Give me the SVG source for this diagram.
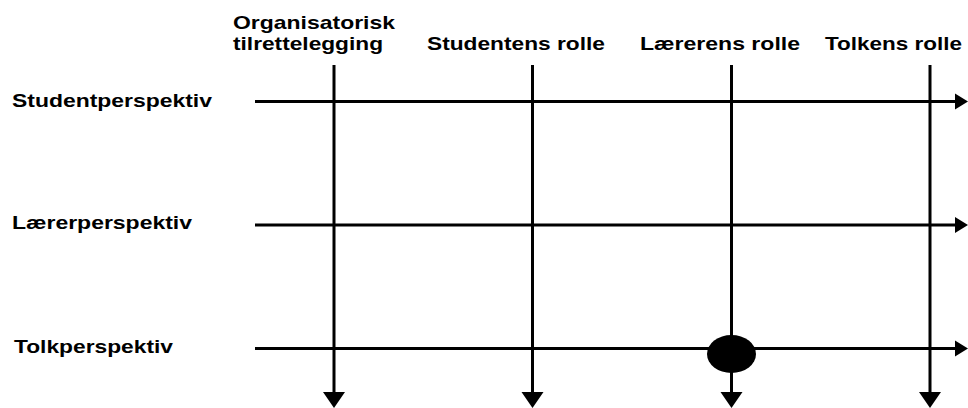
<svg xmlns="http://www.w3.org/2000/svg" width="968" height="408" viewBox="0 0 968 408">
  <style>
    .lbl { font-family: "Liberation Sans", Arial, sans-serif; font-size: 18.5px; font-weight: bold; fill: #000; }
    .ln { stroke: #000; stroke-width: 3; fill: none; }
    .hd { fill: #000; }
  </style>
  <rect width="968" height="408" fill="#fff"/>

  <!-- column headings -->
  <g id="col-organisatorisk">
    <text class="lbl" x="233" y="29" textLength="162" lengthAdjust="spacingAndGlyphs">Organisatorisk</text>
    <text class="lbl" x="233" y="50" textLength="150" lengthAdjust="spacingAndGlyphs">tilrettelegging</text>
  </g>
  <g id="col-studentens">
    <text class="lbl" x="427" y="50" textLength="178" lengthAdjust="spacingAndGlyphs">Studentens rolle</text>
  </g>
  <g id="col-laererens">
    <text class="lbl" x="640" y="50" textLength="160" lengthAdjust="spacingAndGlyphs">Lærerens rolle</text>
  </g>
  <g id="col-tolkens">
    <text class="lbl" x="825" y="50" textLength="137" lengthAdjust="spacingAndGlyphs">Tolkens rolle</text>
  </g>

  <!-- row headings -->
  <g id="row-student">
    <text class="lbl" x="12" y="107" textLength="200" lengthAdjust="spacingAndGlyphs">Studentperspektiv</text>
  </g>
  <g id="row-laerer">
    <text class="lbl" x="12" y="229" textLength="180" lengthAdjust="spacingAndGlyphs">Lærerperspektiv</text>
  </g>
  <g id="row-tolk">
    <text class="lbl" x="14" y="353" textLength="159" lengthAdjust="spacingAndGlyphs">Tolkperspektiv</text>
  </g>

  <!-- axes -->
  <g id="connectors">
    <line class="ln" x1="255" y1="101.5" x2="957" y2="101.5"/>
    <polygon class="hd" points="955,93.5 968,101.5 955,109.5"/>
    <line class="ln" x1="255" y1="225" x2="957" y2="225"/>
    <polygon class="hd" points="955,217 968,225 955,233"/>
    <line class="ln" x1="255" y1="348.5" x2="957" y2="348.5"/>
    <polygon class="hd" points="955,340.5 968,348.5 955,356.5"/>

    <line class="ln" x1="334" y1="65" x2="334" y2="394"/>
    <polygon class="hd" points="323,392 345,392 334,408"/>
    <line class="ln" x1="532.5" y1="65" x2="532.5" y2="394"/>
    <polygon class="hd" points="521.5,392 543.5,392 532.5,408"/>
    <line class="ln" x1="731.5" y1="65" x2="731.5" y2="394"/>
    <polygon class="hd" points="720.5,392 742.5,392 731.5,408"/>
    <line class="ln" x1="930" y1="65" x2="930" y2="394"/>
    <polygon class="hd" points="919,392 941,392 930,408"/>
  </g>

  <!-- marked intersection -->
  <g id="marker-point">
    <ellipse cx="731.5" cy="354" rx="24.5" ry="19" fill="#000"/>
  </g>
</svg>
